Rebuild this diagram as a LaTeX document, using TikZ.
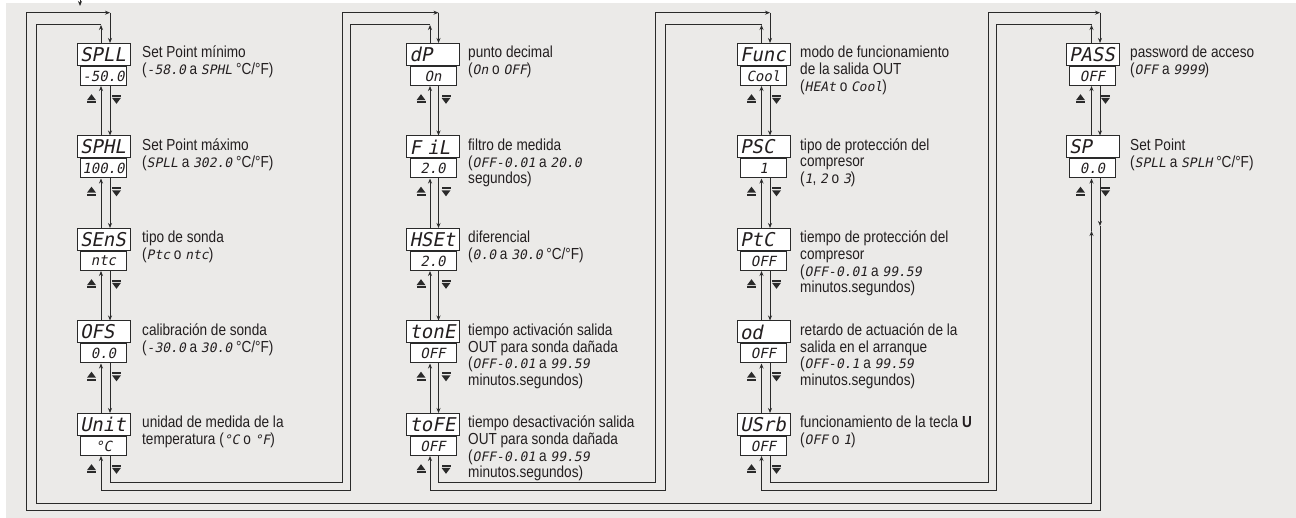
\documentclass[tikz,border=0pt]{standalone}
\usepackage{fontspec}
\setmainfont{Liberation Sans}[FakeStretch=0.85]
\newfontfamily\segfont{DejaVu Sans Mono}[FakeSlant=0.2]
\usetikzlibrary{arrows.meta,calc}
\definecolor{bg}{HTML}{EBEAE8}
\definecolor{ln}{HTML}{2A2A2A}
\definecolor{tx}{HTML}{231F20}
\newcommand{\sg}[1]{{\segfont\fontsize{13}{13}\selectfont #1}}
\newcommand{\lines}[1]{\begin{tabular}[t]{@{}l@{}}#1\end{tabular}}
\begin{document}
\begin{tikzpicture}[x=1pt,y=-1pt,
  conn/.style={draw=ln,line width=1pt},
  arr/.style={conn,-{Stealth[length=5pt,width=4pt]}},
  dtop/.style={draw=ln,line width=1pt,fill=white,minimum height=22pt,text width=47pt,inner xsep=3pt,inner ysep=0pt,align=left,font=\segfont\fontsize{19}{19}\selectfont,text=tx,anchor=north},
  dbot/.style={draw=ln,line width=1pt,fill=white,minimum width=46pt,minimum height=19pt,inner sep=0pt,font=\segfont\fontsize{14}{14}\selectfont,text=tx,anchor=north},
  desc/.style={anchor=base west,inner sep=0pt,font=\fontsize{16}{16.5}\selectfont,text=tx},
  upkey/.pic={\fill[ln] (-4.5,1.2) -- (0,-4.8) -- (4.5,1.2) -- cycle; \fill[ln] (-4.5,2.4) rectangle (4.5,4.2);},
  downkey/.pic={\fill[ln] (-4.5,-4.2) rectangle (4.5,-2.4); \fill[ln] (-4.5,-1.2) -- (4.5,-1.2) -- (0,4.8) -- cycle;}
]
\useasboundingbox (0,0) rectangle (1296,518);
\fill[white] (0,0) rectangle (1296,518);
\fill[bg] (6,3) rectangle (1296,518);

% column x positions
\coordinate (u1) at (101,0);    \coordinate (d1) at (110,0);
\coordinate (u2) at (430,0);    \coordinate (d2) at (438.5,0);
\coordinate (u3) at (761.5,0);  \coordinate (d3) at (770,0);
\coordinate (u4) at (1091.5,0); \coordinate (d4) at (1100,0);
\coordinate (oL1) at (26.7,0);  \coordinate (iL1) at (36.7,0);
\coordinate (oL2) at (342.7,0); \coordinate (iL2) at (350.7,0);
\coordinate (oL3) at (655.7,0); \coordinate (iL3) at (665,0);
\coordinate (oL4) at (988.3,0); \coordinate (iL4) at (996.7,0);
% y levels
\coordinate (yO) at (0,12.7);  \coordinate (yI) at (0,25);
\coordinate (yDn) at (0,482.5); \coordinate (yUp) at (0,490.5);
\coordinate (yB1) at (0,503);  \coordinate (yB2) at (0,510);
\coordinate (yM1) at (0,226);  \coordinate (yM2) at (0,231);

% ---------- displays ----------
% column 1
\node[dtop] (spll-t) at (103.5,43) {SPLL};   \node[dbot] (spll-b) at (spll-t.south) {-50.0};
\node[dtop] (sphl-t) at (103.5,135.5) {SPHL}; \node[dbot] (sphl-b) at (sphl-t.south) {100.0};
\node[dtop] (sens-t) at (103.5,228) {SEnS};  \node[dbot] (sens-b) at (sens-t.south) {ntc};
\node[dtop] (ofs-t) at (103.5,320.5) {OFS};  \node[dbot] (ofs-b) at (ofs-t.south) {0.0};
\node[dtop] (unit-t) at (103.5,413) {Unit};  \node[dbot] (unit-b) at (unit-t.south) {°C};
% column 2
\node[dtop] (dp-t) at (433,43) {dP};         \node[dbot] (dp-b) at (dp-t.south) {On};
\node[dtop] (fil-t) at (433,135.5) {F iL};   \node[dbot] (fil-b) at (fil-t.south) {2.0};
\node[dtop] (hset-t) at (433,228) {HSEt};    \node[dbot] (hset-b) at (hset-t.south) {2.0};
\node[dtop] (tone-t) at (433,320.5) {tonE};  \node[dbot] (tone-b) at (tone-t.south) {OFF};
\node[dtop] (tofe-t) at (433,413) {toFE};    \node[dbot] (tofe-b) at (tofe-t.south) {OFF};
% column 3
\node[dtop] (func-t) at (763.5,43) {Func};   \node[dbot] (func-b) at (func-t.south) {Cool};
\node[dtop] (psc-t) at (763.5,135.5) {PSC};  \node[dbot] (psc-b) at (psc-t.south) {1};
\node[dtop] (ptc-t) at (763.5,228) {PtC};    \node[dbot] (ptc-b) at (ptc-t.south) {OFF};
\node[dtop] (od-t) at (763.5,320.5) {od};    \node[dbot] (od-b) at (od-t.south) {OFF};
\node[dtop] (usrb-t) at (763.5,413) {USrb};  \node[dbot] (usrb-b) at (usrb-t.south) {OFF};
% column 4
\node[dtop] (pass-t) at (1092.5,43) {PASS};  \node[dbot] (pass-b) at (pass-t.south) {OFF};
\node[dtop] (sp-t) at (1092.5,135.5) {SP};   \node[dbot] (sp-b) at (sp-t.south) {0.0};

% ---------- key icons ----------
\foreach \n in {spll,sphl,sens,ofs,unit,dp,fil,hset,tone,tofe,func,psc,ptc,od,usrb,pass,sp}{
  \path ($(\n-b.south)+(-12,13)$) pic {upkey};
  \path ($(\n-b.south)+(13,13)$) pic {downkey};
}

% ---------- vertical connectors within columns ----------
\foreach \u/\d/\a/\b in {u1/d1/spll/sphl,u1/d1/sphl/sens,u1/d1/sens/ofs,u1/d1/ofs/unit,
                         u2/d2/dp/fil,u2/d2/fil/hset,u2/d2/hset/tone,u2/d2/tone/tofe,
                         u3/d3/func/psc,u3/d3/psc/ptc,u3/d3/ptc/od,u3/d3/od/usrb,
                         u4/d4/pass/sp}{
  \draw[arr] (\u |- \b-t.north) -- (\u |- \a-b.south);
  \draw[arr] (\d |- \a-b.south) -- (\d |- \b-t.north);
}

% ---------- loops ----------
% entry arrow
\coordinate (in0) at (80,0); \coordinate (in1) at (80,6);
\draw[arr] (in0) -- (in1);
% SP -> SPLL (down)
\draw[arr] (d4 |- sp-b.south) -- (d4 |- yM1);
\draw[arr] (d4 |- yM1) -- (d4 |- yB2) -- (oL1 |- yB2) -- (oL1 |- yO) -- (d1 |- yO);
\draw[arr] (d1 |- yO) -- (d1 |- spll-t.north);
% SPLL -> SP (up)
\draw[arr] (u1 |- spll-t.north) -- (u1 |- yI);
\draw[arr] (u1 |- yI) -- (iL1 |- yI) -- (iL1 |- yB1) -- (u4 |- yB1) -- (u4 |- yM2);
\draw[arr] (u4 |- yM2) -- (u4 |- sp-b.south);
% Unit -> dP (down)
\draw[arr] (d1 |- unit-b.south) -- (d1 |- yDn) -- (oL2 |- yDn) -- (oL2 |- yO) -- (d2 |- yO);
\draw[arr] (d2 |- yO) -- (d2 |- dp-t.north);
% dP -> Unit (up)
\draw[arr] (u2 |- dp-t.north) -- (u2 |- yI);
\draw[arr] (u2 |- yI) -- (iL2 |- yI) -- (iL2 |- yUp) -- (u1 |- yUp) -- (u1 |- unit-b.south);
% toFE -> Func (down)
\draw[arr] (d2 |- tofe-b.south) -- (d2 |- yDn) -- (oL3 |- yDn) -- (oL3 |- yO) -- (d3 |- yO);
\draw[arr] (d3 |- yO) -- (d3 |- func-t.north);
% Func -> toFE (up)
\draw[arr] (u3 |- func-t.north) -- (u3 |- yI);
\draw[arr] (u3 |- yI) -- (iL3 |- yI) -- (iL3 |- yUp) -- (u2 |- yUp) -- (u2 |- tofe-b.south);
% USrb -> PASS (down)
\draw[arr] (d3 |- usrb-b.south) -- (d3 |- yDn) -- (oL4 |- yDn) -- (oL4 |- yO) -- (d4 |- yO);
\draw[arr] (d4 |- yO) -- (d4 |- pass-t.north);
% PASS -> USrb (up)
\draw[arr] (u4 |- pass-t.north) -- (u4 |- yI);
\draw[arr] (u4 |- yI) -- (iL4 |- yI) -- (iL4 |- yUp) -- (u3 |- yUp) -- (u3 |- usrb-b.south);

% ---------- descriptions ----------
\node[desc] (x-spll) at (142,58) {\lines{Set Point mínimo\\(\sg{-58.0} a \sg{SPHL} °C/°F)}};
\node[desc] (x-sphl) at (142,150.5) {\lines{Set Point máximo\\(\sg{SPLL} a \sg{302.0} °C/°F)}};
\node[desc] (x-sens) at (142,243) {\lines{tipo de sonda\\(\sg{Ptc} o \sg{ntc})}};
\node[desc] (x-ofs) at (142,335.5) {\lines{calibración de sonda\\(\sg{-30.0} a \sg{30.0} °C/°F)}};
\node[desc] (x-unit) at (142,428) {\lines{unidad de medida de la\\temperatura (\sg{°C} o \sg{°F})}};

\node[desc] (x-dp) at (468,58) {\lines{punto decimal\\(\sg{On} o \sg{OFF})}};
\node[desc] (x-fil) at (468,150.5) {\lines{filtro de medida\\(\sg{OFF-0.01} a \sg{20.0}\\segundos)}};
\node[desc] (x-hset) at (468,243) {\lines{diferencial\\(\sg{0.0} a \sg{30.0} °C/°F)}};
\node[desc] (x-tone) at (468,335.5) {\lines{tiempo activación salida\\OUT para sonda dañada\\(\sg{OFF-0.01} a \sg{99.59}\\minutos.segundos)}};
\node[desc] (x-tofe) at (468,428) {\lines{tiempo desactivación salida\\OUT para sonda dañada\\(\sg{OFF-0.01} a \sg{99.59}\\minutos.segundos)}};

\node[desc] (x-func) at (800,58) {\lines{modo de funcionamiento\\de la salida OUT\\(\sg{HEAt} o \sg{Cool})}};
\node[desc] (x-psc) at (800,150.5) {\lines{tipo de protección del\\compresor\\(\sg{1}, \sg{2} o \sg{3})}};
\node[desc] (x-ptc) at (800,243) {\lines{tiempo de protección del\\compresor\\(\sg{OFF-0.01} a \sg{99.59}\\minutos.segundos)}};
\node[desc] (x-od) at (800,335.5) {\lines{retardo de actuación de la\\salida en el arranque\\(\sg{OFF-0.1} a \sg{99.59}\\minutos.segundos)}};
\node[desc] (x-usrb) at (800,428) {\lines{funcionamiento de la tecla \textbf{U}\\(\sg{OFF} o \sg{1})}};

\node[desc] (x-pass) at (1130,58) {\lines{password de acceso\\(\sg{OFF} a \sg{9999})}};
\node[desc] (x-sp) at (1130,150.5) {\lines{Set Point\\(\sg{SPLL} a \sg{SPLH} °C/°F)}};
\end{tikzpicture}
\end{document}
